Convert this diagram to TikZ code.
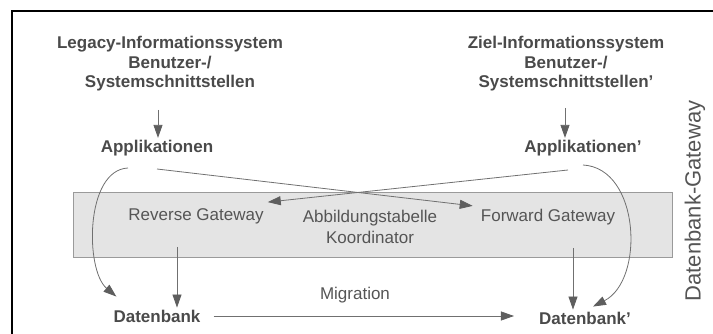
\documentclass[tikz,border=0pt]{standalone}
\usepackage{fontspec}
\setmainfont{Liberation Sans}
\usetikzlibrary{arrows.meta}
\definecolor{inkgray}{HTML}{4A4A4A}
\definecolor{txtgray}{HTML}{555555}
\definecolor{linegray}{HTML}{707070}
\definecolor{headgray}{HTML}{5E5E5E}
\definecolor{boxfill}{HTML}{E4E4E4}
\definecolor{boxline}{HTML}{9A9A9A}
\begin{document}
\begin{tikzpicture}[x=1pt,y=-1pt,
  boldlabel/.style={font=\fontsize{17}{19.5}\selectfont\bfseries, text=inkgray, align=center, inner sep=2pt},
  plainlabel/.style={font=\fontsize{17}{21}\selectfont, text=txtgray, align=center, inner sep=2pt},
  arr/.style={draw=linegray, line width=0.8pt, -{Triangle[length=13pt,width=9pt,color=headgray]}},
  conn/.style={draw=linegray, line width=0.8pt}]
  % page extent
  \useasboundingbox (0,0) rectangle (713,334);
  % frame (top and left edges)
  \draw[line width=2.4pt, black] (12,334) -- (12,11) -- (713,11);

  % interface layer
  \node[boldlabel] (leg) at (170,64) {Legacy-Informationssystem\\Benutzer-/\\Systemschnittstellen};
  \node[boldlabel] (ziel) at (566,64) {Ziel-Informationssystem\\Benutzer-/\\Systemschnittstellen'};

  % applications
  \node[boldlabel] (app) at (157,148) {Applikationen};
  \node[boldlabel] (app2) at (583,148) {Applikationen'};

  % gateway band
  \node[draw=boxline, fill=boxfill, line width=0.8pt, minimum width=599pt, minimum height=65pt, inner sep=0pt] (box) at (372.5,224.5) {};
  \node[plainlabel] (rev) at (196,216) {Reverse Gateway};
  \node[plainlabel] (abb) at (370,227) {Abbildungstabelle\\Koordinator};
  \node[plainlabel] (fwd) at (548,217) {Forward Gateway};

  % databases
  \node[boldlabel] (db) at (157,316) {Datenbank};
  \node[boldlabel] (db2) at (585,318) {Datenbank'};
  \node[plainlabel] (mig) at (355,295) {Migration};

  % side label
  \node[font=\fontsize{22}{24}\selectfont, text=txtgray, rotate=90, inner sep=0pt] (gw) at (695,201) {Datenbank-Gateway};

  % interface -> applications
  \coordinate (l0) at (158,110);
  \coordinate (r0) at (565,108);
  \draw[arr] (l0) -- (l0 |- app.north);
  \draw[arr] (r0) -- (r0 |- app2.north);

  % crossing connectors into the gateways
  \coordinate (la) at (157,169);
  \coordinate (ra) at (568,170);
  \draw[arr] (la) -- ([xshift=-6pt,yshift=1pt]fwd.north west);
  \draw[arr] (ra) -- ([xshift=2pt,yshift=4pt]rev.north east);

  % direct access paths
  \coordinate (lc) at (128,168);
  \coordinate (rc) at (583,165);
  \draw[arr] (lc) .. controls (85,170) and (85,270) .. ([xshift=5pt,yshift=11pt]db.north west);
  \draw[arr] (rc) .. controls (640,168) and (645,280) .. ([xshift=8pt,yshift=3pt]db2.north);

  % gateways -> databases
  \coordinate (lg) at (177,247);
  \coordinate (rg) at (573,248);
  \draw[arr] (lg) -- (lg |- db.north);
  \draw[arr] (rg) -- (rg |- db2.north);

  % migration
  \draw[arr] ([xshift=11pt]db.east) -- ([xshift=-23pt]db.east -| db2.west);
\end{tikzpicture}
\end{document}
